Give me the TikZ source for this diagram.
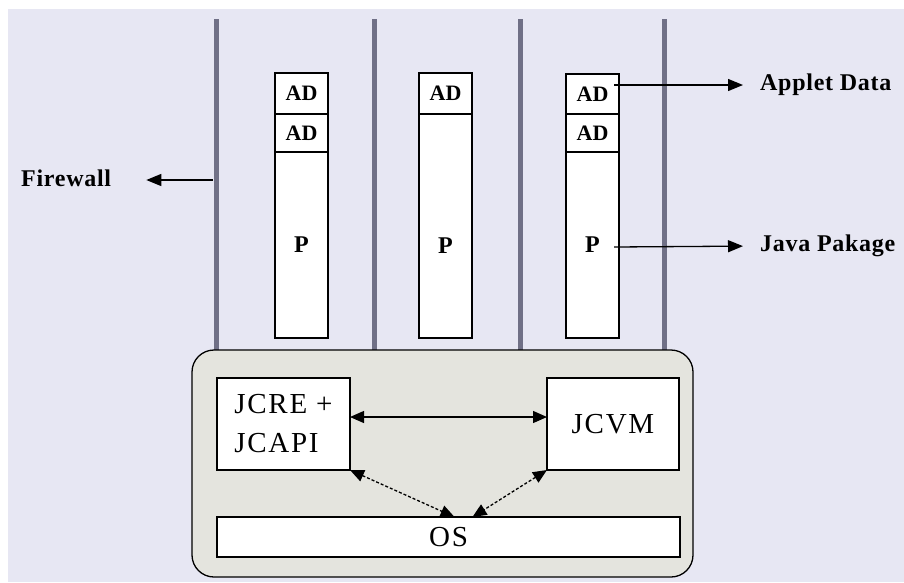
\documentclass[tikz,border=0pt]{standalone}
\usepackage{fontspec}
\setmainfont{Liberation Serif}
\newfontface\LblFont[LetterSpace=3]{Liberation Serif Bold}
\newfontface\CellFont{Liberation Serif Bold}
\newfontface\BoxFont[LetterSpace=6]{Liberation Serif}
\usepackage{xcolor}
\definecolor{Col1}{RGB}{231,231,243}
\definecolor{Col2}{RGB}{228,228,222}
\definecolor{Col3}{RGB}{112,112,134}
\usepackage{tikz}
\usetikzlibrary{arrows.meta}
\tikzstyle{Cell}=[rectangle,draw=black,fill=white,line width=1.3pt,
outer sep=0pt,inner sep=0pt,anchor=north west,minimum width=53pt,
font=\CellFont\fontsize{22}{24}\selectfont]
\tikzstyle{PCell}=[Cell,font=\CellFont\fontsize{24}{26}\selectfont]
\tikzstyle{Block}=[rectangle,draw=black,fill=white,line width=1.3pt,
outer sep=0pt,inner sep=0pt,anchor=north west,align=left,
font=\BoxFont\fontsize{29}{39}\selectfont]
\tikzstyle{Lbl}=[inner sep=0pt,anchor=west,font=\LblFont\fontsize{24}{26}\selectfont]
\tikzstyle{Wall}=[draw=Col3,line width=5pt]
\tikzstyle{Arr}=[draw=black,line width=1.3pt,-{Triangle[length=15pt,width=12pt]}]
\tikzstyle{Dbl}=[draw=black,line width=1.3pt,
{Triangle[length=14pt,width=12pt]}-{Triangle[length=14pt,width=12pt]}]

\begin{document}
\begin{tikzpicture}[x=1pt,y=-1pt]
            \useasboundingbox(0,0)rectangle(904,582);
            \fill[white](0,0)rectangle(904,582);
            \fill[Col1](8,9)rectangle(904,582);
            % firewalls
            \foreach \x in {216,374,520,664}
                \draw[Wall](\x,19)--(\x,350);
            % applet columns
            \node[Cell,minimum height=41pt](a1)at(275,73){AD};
            \node[Cell,minimum height=38pt](b1)at(275,114){AD};
            \node[PCell,minimum height=186pt](p1)at(275,152){P};
            \node[Cell,minimum height=41pt](a2)at(419,73){AD};
            \node[PCell,minimum height=224pt,text height=54pt](p2)at(419,114){P};
            \node[Cell,minimum height=40pt](a3)at(566,74){AD};
            \node[Cell,minimum height=38pt](b3)at(566,114){AD};
            \node[PCell,minimum height=186pt](p3)at(566,152){P};
            % labels
            \node[Lbl](applet)at(760,85){Applet Data};
            \node[Lbl](pkg)at(760,246){Java Pakage};
            \node[Lbl](firewall)at(21,178){Firewall};
            \coordinate(fw)at(213,180);
            \draw[Arr,shorten >=17pt]([xshift=-5pt,yshift=9pt]a3.east)--(applet.west);
            \draw[Arr,shorten >=17pt]([xshift=-5pt,yshift=-2pt]p3.east)--(pkg.west);
            \draw[Arr,shorten >=35pt](fw)--(firewall.east|-fw);
            %
            \draw[fill=Col2,draw=black,line width=1.3pt,rounded corners=22pt]
                (192,350)rectangle(693,577);
            \node[Block,minimum width=133pt,minimum height=92pt](jcre)at(217,378)
                {JCRE +\\JCAPI};
            \node[Block,minimum width=132pt,minimum height=92pt](jcvm)at(547,378)
                {JCVM};
            \node[Block,minimum width=463pt,minimum height=40pt](os)at(217,517)
                {OS};
            \draw[Dbl]([yshift=7pt]jcre.east)--([yshift=7pt]jcvm.west);
            \draw[Dbl,densely dashed](jcre.south east)--([xshift=6pt]os.north);
            \draw[Dbl,densely dashed](jcvm.south west)--([xshift=24pt]os.north);
        \end{tikzpicture}
\end{document}
